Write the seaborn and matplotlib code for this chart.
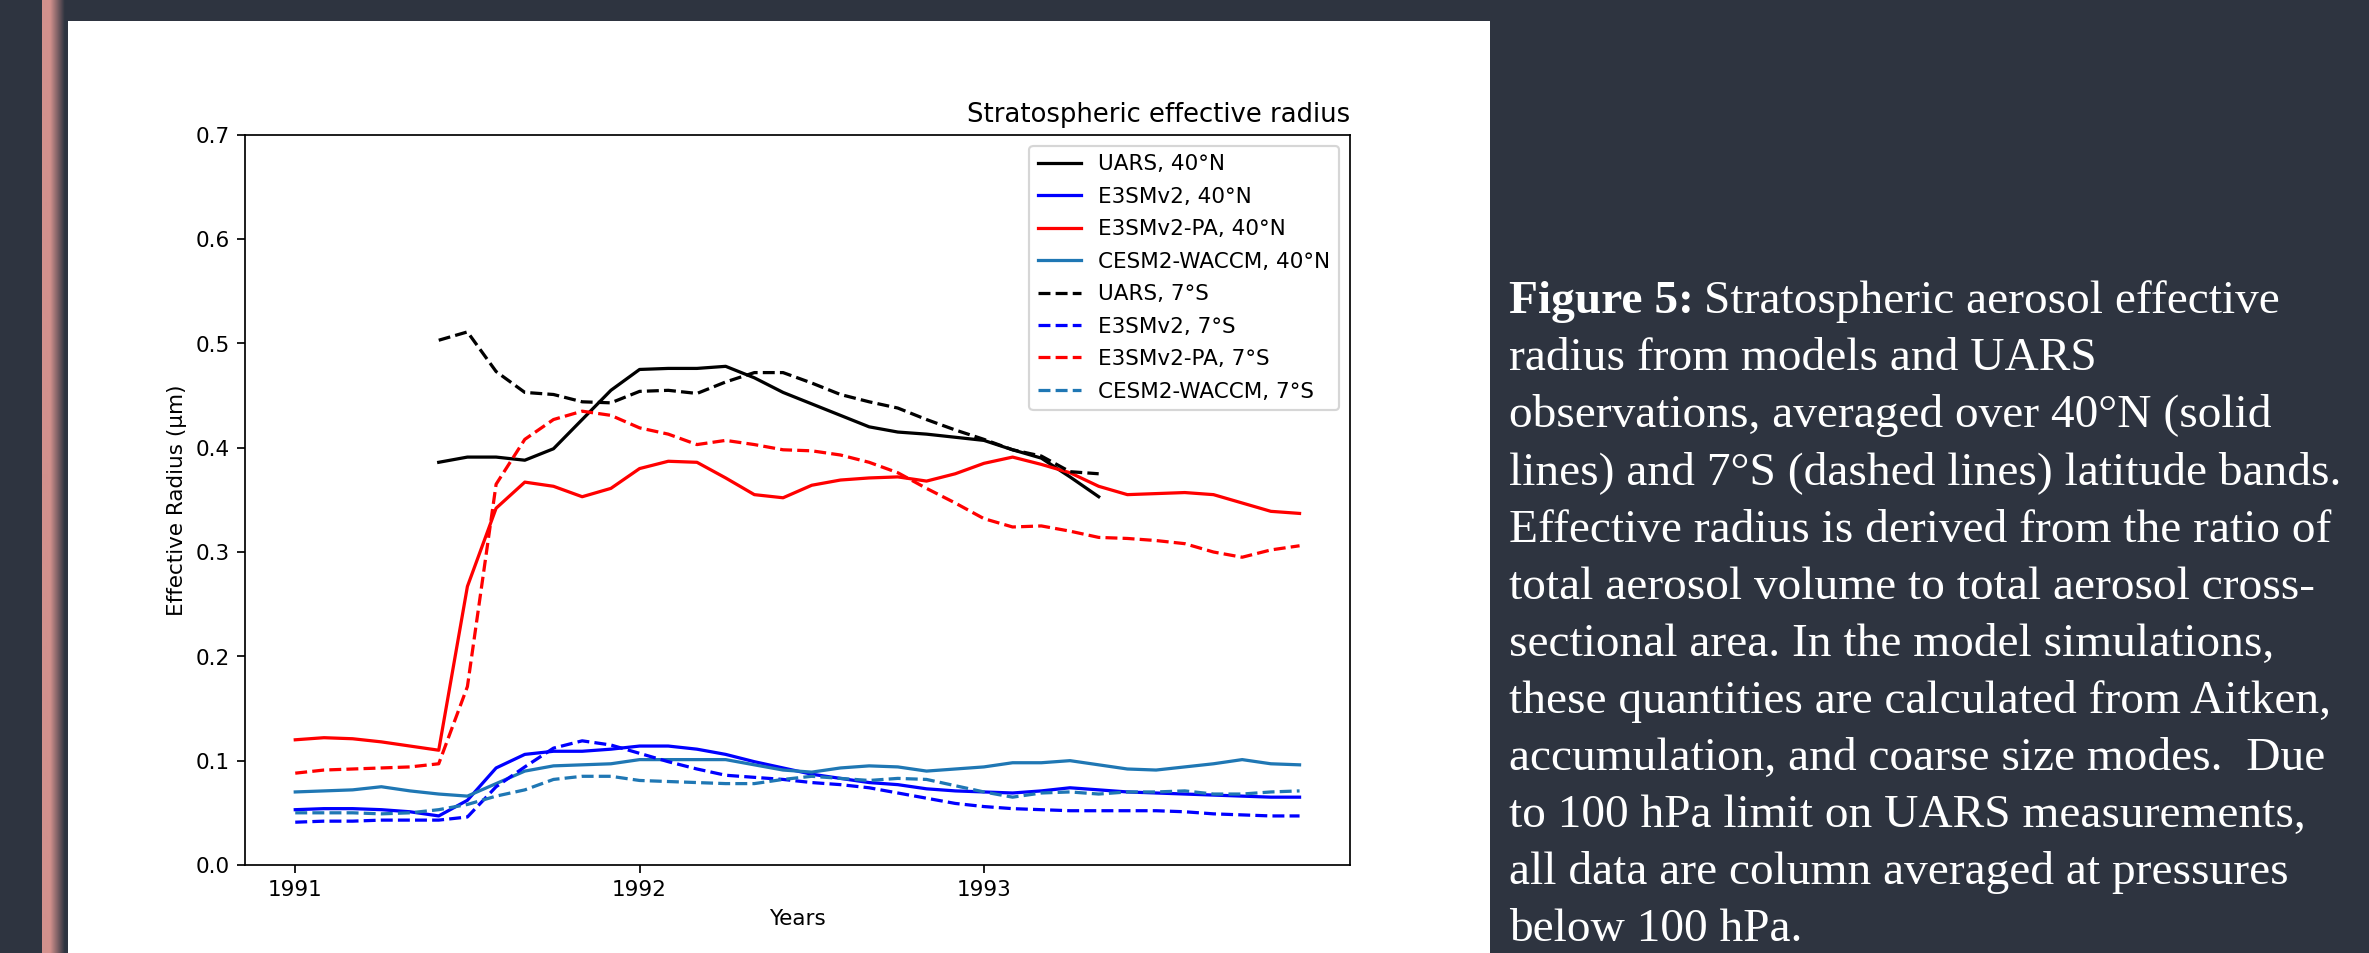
import numpy as np
import pandas as pd
import matplotlib
matplotlib.use("Agg")
import matplotlib.pyplot as plt
import matplotlib.colors as mcolors
from matplotlib.patches import Rectangle
import seaborn as sns

# ---------------- data ----------------
months = 1991 + np.arange(36) / 12          # monthly time axis, Jan 1991 .. Dec 1993
uars_slice = slice(5, 29)                    # UARS available Jun 1991 .. May 1993

uars_40n = [0.386, 0.391, 0.391, 0.388, 0.399, 0.427, 0.455, 0.475, 0.476, 0.476, 0.478, 0.467,
            0.453, 0.442, 0.431, 0.420, 0.415, 0.413, 0.410, 0.407, 0.398, 0.390, 0.372, 0.353]
uars_7s = [0.503, 0.511, 0.473, 0.453, 0.451, 0.444, 0.443, 0.454, 0.455, 0.452, 0.463, 0.472,
           0.472, 0.462, 0.451, 0.444, 0.438, 0.427, 0.417, 0.408, 0.398, 0.392, 0.377, 0.375]

e3sm_40n = [0.053, 0.054, 0.054, 0.053, 0.051, 0.047, 0.062, 0.093, 0.106, 0.109, 0.109, 0.111,
            0.114, 0.114, 0.111, 0.106, 0.099, 0.093, 0.087, 0.083, 0.079, 0.077, 0.073, 0.071,
            0.070, 0.069, 0.071, 0.074, 0.072, 0.070, 0.069, 0.068, 0.067, 0.066, 0.065, 0.065]
e3sm_7s = [0.041, 0.042, 0.042, 0.043, 0.043, 0.043, 0.046, 0.075, 0.094, 0.112, 0.119, 0.115,
           0.107, 0.099, 0.092, 0.086, 0.084, 0.082, 0.079, 0.077, 0.074, 0.069, 0.064, 0.059,
           0.056, 0.054, 0.053, 0.052, 0.052, 0.052, 0.052, 0.051, 0.049, 0.048, 0.047, 0.047]

e3smpa_40n = [0.120, 0.122, 0.121, 0.118, 0.114, 0.110, 0.267, 0.342, 0.367, 0.363, 0.353, 0.361,
              0.380, 0.387, 0.386, 0.371, 0.355, 0.352, 0.364, 0.369, 0.371, 0.372, 0.368, 0.375,
              0.385, 0.391, 0.384, 0.376, 0.363, 0.355, 0.356, 0.357, 0.355, 0.347, 0.339, 0.337]
e3smpa_7s = [0.088, 0.091, 0.092, 0.093, 0.094, 0.097, 0.171, 0.365, 0.408, 0.427, 0.435, 0.431,
             0.419, 0.413, 0.403, 0.407, 0.403, 0.398, 0.397, 0.393, 0.386, 0.376, 0.361, 0.347,
             0.332, 0.324, 0.325, 0.320, 0.314, 0.313, 0.311, 0.308, 0.300, 0.295, 0.302, 0.306]

cesm_40n = [0.070, 0.071, 0.072, 0.075, 0.071, 0.068, 0.066, 0.078, 0.090, 0.095, 0.096, 0.097,
            0.101, 0.101, 0.101, 0.101, 0.096, 0.091, 0.089, 0.093, 0.095, 0.094, 0.090, 0.092,
            0.094, 0.098, 0.098, 0.100, 0.096, 0.092, 0.091, 0.094, 0.097, 0.101, 0.097, 0.096]
cesm_7s = [0.050, 0.050, 0.050, 0.049, 0.050, 0.053, 0.058, 0.066, 0.072, 0.082, 0.085, 0.085,
           0.081, 0.080, 0.079, 0.078, 0.078, 0.082, 0.085, 0.083, 0.081, 0.083, 0.082, 0.076,
           0.070, 0.065, 0.069, 0.070, 0.068, 0.070, 0.070, 0.071, 0.068, 0.068, 0.070, 0.071]

xtick_years = [1991, 1992, 1993]

caption_lines = [
    "radius from models and UARS",
    "observations, averaged over 40°N (solid",
    "lines) and 7°S (dashed lines) latitude bands.",
    "Effective radius is derived from the ratio of",
    "total aerosol volume to total aerosol cross-",
    "sectional area. In the model simulations,",
    "these quantities are calculated from Aitken,",
    "accumulation, and coarse size modes.  Due",
    "to 100 hPa limit on UARS measurements,",
    "all data are column averaged at pressures",
    "below 100 hPa.",
]

# ---------------- figure ----------------
W, H = 2369, 953
DPI = 155
BG = "#2e3440"
fig = plt.figure(figsize=((W + 0.3) / DPI, (H + 0.3) / DPI), dpi=DPI, facecolor=BG)

# white slide panel (behind everything)
fig.patches.append(Rectangle((68 / W, 0), (1490 - 68) / W, (H - 21) / H,
                             transform=fig.transFigure, facecolor="white",
                             edgecolor="none", zorder=-10))

# left accent bar with gradient
bar_ax = fig.add_axes([42 / W, 0, 22 / W, 1])
bar_ax.axis("off")
pink = np.array(mcolors.to_rgb("#d3918d"))
bgc = np.array(mcolors.to_rgb(BG))
t = np.clip((np.linspace(0, 1, 64) - 0.35) / 0.65, 0, 1)
grad = pink[None, :] * (1 - t)[:, None] + bgc[None, :] * t[:, None]
bar_ax.imshow(grad[None, :, :], aspect="auto", extent=[0, 1, 0, 1])
bar_ax.set_xlim(0, 1)
bar_ax.set_ylim(0, 1)

# main axes
ax = fig.add_axes([245 / W, (H - 865) / H, 1104.6 / W, 730 / H])
ax.set_facecolor("white")
ax.set_zorder(5)

series = [
    (months[uars_slice], uars_40n, "black", "-", "UARS, 40°N"),
    (months, e3sm_40n, "blue", "-", "E3SMv2, 40°N"),
    (months, e3smpa_40n, "red", "-", "E3SMv2-PA, 40°N"),
    (months, cesm_40n, "#1f77b4", "-", "CESM2-WACCM, 40°N"),
    (months[uars_slice], uars_7s, "black", "--", "UARS, 7°S"),
    (months, e3sm_7s, "blue", "--", "E3SMv2, 7°S"),
    (months, e3smpa_7s, "red", "--", "E3SMv2-PA, 7°S"),
    (months, cesm_7s, "#1f77b4", "--", "CESM2-WACCM, 7°S"),
]
for xs, ys, col, ls, lab in series:
    sns.lineplot(x=np.asarray(xs), y=np.asarray(ys), ax=ax, color=col,
                 linestyle=ls, linewidth=1.5, label=lab, legend=False)

ax.set_ylim(0, 0.7)
ax.set_xticks(xtick_years)
ax.set_xticklabels([str(y) for y in xtick_years])
ax.set_xlabel("Years")
ax.set_ylabel("Effective Radius (µm)")
ax.set_title("Stratospheric effective radius", loc="right")
ax.legend(loc="upper right", labelspacing=0.58)

# caption
cap_kw = dict(family="Liberation Serif", size=22, color="white", va="baseline", ha="left")
x_cap = 1509 / W
base0 = 313
gap = 57.1
t1 = fig.text(x_cap, 1 - base0 / H, "Figure 5:", weight="bold", **cap_kw)
fig.canvas.draw()
bb = t1.get_window_extent(renderer=fig.canvas.get_renderer())
fig.text((bb.x1 + 10) / W, 1 - base0 / H, "Stratospheric aerosol effective", **cap_kw)
for i, line in enumerate(caption_lines, start=1):
    fig.text(x_cap, 1 - (base0 + gap * i) / H, line, **cap_kw)

fig.savefig("out.png", dpi=DPI, facecolor=BG)
